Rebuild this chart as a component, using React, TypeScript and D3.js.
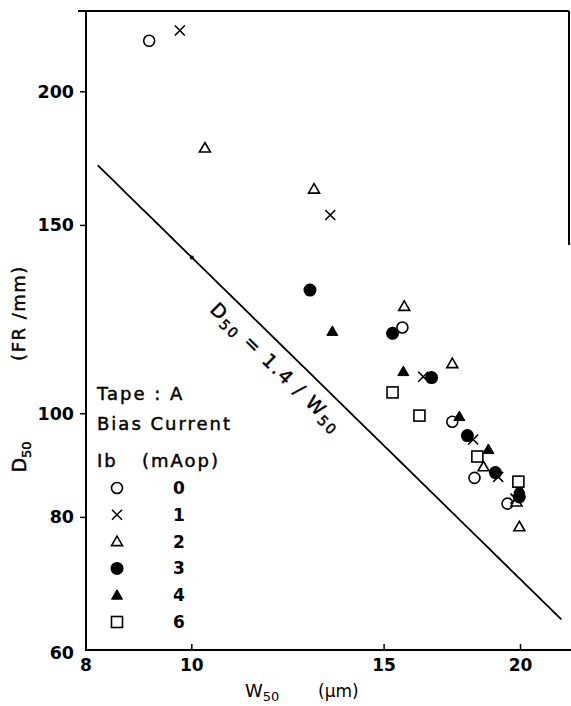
import React from "react";
import * as d3 from "d3";

// W50 (um) and D50 (FR/mm) per bias current Ib (mAop)
const series0W = [9.14, 15.59, 17.32, 18.15, 19.46];
const series0D = [223.2, 120.4, 98.3, 87.1, 82.4];
const series1W = [9.75, 13.39, 16.29, 18.1, 19.08, 19.79];
const series1D = [228.2, 153.4, 108.3, 94.6, 87.3, 83.3];
const series2W = [10.28, 12.94, 15.65, 17.32, 18.5, 19.83, 19.95];
const series2D = [177.2, 162.2, 126.0, 111.4, 89.2, 82.7, 78.4];
const series3W = [12.83, 15.27, 16.58, 17.88, 18.97, 19.95];
const series3D = [130.5, 118.9, 108.1, 95.4, 88.1, 83.6];
const series4W = [13.45, 15.62, 17.58, 18.69, 19.95];
const series4D = [119.4, 109.5, 99.4, 92.6, 85.1];
const series6W = [15.27, 16.16, 18.26, 19.91];
const series6D = [104.7, 99.6, 91.2, 86.4];

const biasLabels = ["0", "1", "2", "3", "4", "6"];
const markerKinds = ["circle", "cross", "triangle", "dot", "filledTriangle", "square"];
const xTicks = [10, 15, 20];
const xTickLabels = ["8", "10", "15", "20"];
const yTicks = [60, 80, 100, 150, 200];

const FONT = "'DejaVu Sans', sans-serif";
// scanned lettering is a little heavier than the plain face
const ink = { stroke: "#000", strokeWidth: 0.45 };

const Marker = ({ kind, cx, cy }: { kind: string; cx: number; cy: number }) => {
  const sw = 1.6;
  if (kind === "circle")
    return <circle cx={cx} cy={cy} r={5.5} fill="#fff" stroke="#000" strokeWidth={sw} />;
  if (kind === "dot") return <circle cx={cx} cy={cy} r={6.5} fill="#000" />;
  if (kind === "cross")
    return (
      <path
        d={`M${cx - 5},${cy - 5}L${cx + 5},${cy + 5}M${cx - 5},${cy + 5}L${cx + 5},${cy - 5}`}
        stroke="#000"
        strokeWidth={sw}
      />
    );
  if (kind === "square")
    return <rect x={cx - 5.5} y={cy - 5.5} width={11} height={11} fill="#fff" stroke="#000" strokeWidth={sw} />;
  const tri = `M${cx},${cy - 5.5}L${cx + 5.5},${cy + 4}L${cx - 5.5},${cy + 4}Z`;
  if (kind === "triangle") return <path d={tri} fill="#fff" stroke="#000" strokeWidth={sw} />;
  return <path d={tri} fill="#000" stroke="#000" strokeWidth={1} />;
};

export default function App() {
  const width = 571;
  const height = 706;
  const x = d3.scaleLog().domain([8, 22.2]).range([86, 570]);
  const y = d3.scaleLog().domain([60, 238]).range([651, 11]);

  const seriesW = [series0W, series1W, series2W, series3W, series4W, series6W];
  const seriesD = [series0D, series1D, series2D, series3D, series4D, series6D];

  // D50 = 1.4 / W50 (W in um -> 1400 / W in FR/mm)
  const law = (w: number) => 1400 / w;
  const lineW = d3.range(8.2, 21.85, 0.1);
  const lawLine = d3
    .line<number>()
    .x((w) => x(w))
    .y((w) => y(law(w)));

  const wa = 9, wb = 20;
  const angle =
    (Math.atan2(y(law(wb)) - y(law(wa)), x(wb) - x(wa)) * 180) / Math.PI;
  const w0 = 12.3;

  const legendTop = 488;
  const legendStep = 26.8;

  return (
    <svg
      width={width}
      height={height}
      style={{ position: "absolute", left: 0, top: 0, background: "#fff" }}
      fontFamily={FONT}
    >
      <rect width={width} height={height} fill="#fff" />
      {/* frame */}
      <line x1={86} x2={86} y1={11} y2={651} stroke="#000" strokeWidth={2} />
      <line x1={86} x2={571} y1={650} y2={650} stroke="#000" strokeWidth={2} />
      <line x1={78} x2={569} y1={11} y2={11} stroke="#000" strokeWidth={2} />
      <line x1={569} x2={569} y1={11} y2={245} stroke="#000" strokeWidth={2} />

      {/* y ticks */}
      {yTicks.map((t) => (
        <g key={t}>
          {t !== 60 && <line x1={80} x2={86} y1={y(t)} y2={y(t)} stroke="#000" strokeWidth={1.5} />}
          <text
            x={74}
            y={y(t) + (t === 60 ? 8 : 6)}
            textAnchor="end"
            fontSize={17.5}
            fontWeight="bold"
          >
            {t}
          </text>
        </g>
      ))}

      {/* x ticks */}
      {xTicks.map((t) => (
        <line key={t} x1={x(t)} x2={x(t)} y1={650} y2={644} stroke="#000" strokeWidth={1.5} />
      ))}
      {[8, ...xTicks].map((t, i) => (
        <text key={t} x={x(t)} y={671} textAnchor="middle" fontSize={17} fontWeight="bold">
          {xTickLabels[i]}
        </text>
      ))}

      {/* axis titles */}
      <text transform="translate(26,457) rotate(-90)" textAnchor="middle" fontSize={19} {...ink}>
        D<tspan fontSize={13} dy={5}>50</tspan>
      </text>
      <text
        transform="translate(25,313) rotate(-90)"
        textAnchor="middle"
        fontSize={18}
        letterSpacing={1.5}
        {...ink}
      >
        (FR /mm)
      </text>
      <text x={245} y={697} fontSize={18}>
        W<tspan fontSize={13} dy={4}>50</tspan>
      </text>
      <text x={318} y={697} fontSize={17}>
        (µm)
      </text>

      {/* law line */}
      <path d={lawLine(lineW) || ""} fill="none" stroke="#000" strokeWidth={1.8} />
      <circle cx={x(10)} cy={y(law(10))} r={2} fill="#000" />
      <text
        transform={`translate(${x(w0)},${y(law(w0))}) rotate(${angle})`}
        textAnchor="middle"
        y={26}
        fontSize={19}
        letterSpacing={2}
        {...ink}
      >
        D<tspan fontSize={14} dy={4}>50</tspan>
        <tspan dy={-4}> = 1.4 / W</tspan>
        <tspan fontSize={14} dy={4}>50</tspan>
      </text>

      {/* data */}
      {seriesW.map((ws, si) =>
        ws.map((w, i) => (
          <Marker key={`${si}-${i}`} kind={markerKinds[si]} cx={x(w)} cy={y(seriesD[si][i])} />
        ))
      )}

      {/* legend */}
      <g fontSize={18} letterSpacing={2} {...ink}>
        <text x={97} y={400}>Tape : A</text>
        <text x={97} y={430}>Bias Current</text>
        <text x={97} y={467}>Ib</text>
        <text x={142} y={467}>(mAop)</text>
      </g>
      {biasLabels.map((lab, i) => (
        <g key={lab}>
          <Marker kind={markerKinds[i]} cx={117} cy={legendTop + i * legendStep} />
          <text
            x={179}
            y={legendTop + i * legendStep + 6}
            textAnchor="middle"
            fontSize={17}
            fontWeight="bold"
          >
            {lab}
          </text>
        </g>
      ))}
    </svg>
  );
}
